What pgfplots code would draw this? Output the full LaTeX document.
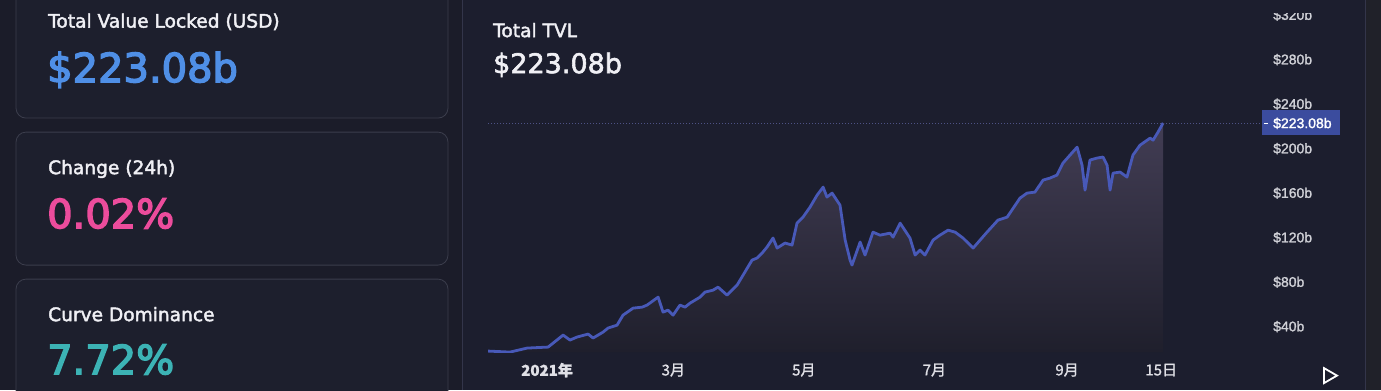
\documentclass[border=0pt]{standalone}
\usepackage{pgfplots}
\pgfplotsset{compat=1.18}
\usepackage{pgfplotstable}
\usepackage{fontspec}
\setmainfont{DejaVu Sans}
\newfontfamily\med[FakeBold=2.2]{DejaVu Sans}
\newfontfamily\semi[FakeBold=3.5]{DejaVu Sans}
\newfontfamily\lib[FakeBold=1.5]{Liberation Sans}
\newfontfamily\cjk[FakeBold=1.2]{Noto Sans CJK SC}
\definecolor{pagebg}{HTML}{1B1C29}
\definecolor{cardbg}{HTML}{1D1F2D}
\definecolor{cardborder}{HTML}{3B3D4C}
\definecolor{chartbg}{HTML}{1C1E2E}
\definecolor{rightbg}{HTML}{202129}
\definecolor{sepC}{HTML}{33354A}
\definecolor{lineC}{HTML}{4859B8}
\definecolor{fillTop}{HTML}{423D54}
\definecolor{fillBot}{HTML}{1F1F2C}
\definecolor{blueT}{HTML}{4F8FE6}
\definecolor{pinkT}{HTML}{EC4C9C}
\definecolor{tealT}{HTML}{3CB3B5}
\definecolor{headT}{HTML}{F0F0F5}
\definecolor{xtickC}{HTML}{E0E0E6}
\definecolor{ytickC}{HTML}{CFD0D6}
\definecolor{boxC}{HTML}{3B4C9E}
\definecolor{dotC}{HTML}{4D5285}

\pgfplotstableread{
day value
-27.6 18.0
-17.3 17.1
-9.3 20.7
0.5 21.6
7.5 32.4
10.7 27.9
14.0 30.6
19.2 33.3
21.5 29.7
26.2 35.1
28.5 38.7
32.7 41.3
35.5 50.3
40.2 56.6
44.4 57.5
46.7 59.3
51.9 66.5
54.2 53.0
56.5 54.8
58.9 50.3
62.1 59.3
64.5 57.5
66.8 61.1
71.5 66.5
73.8 71.0
77.6 72.8
79.9 75.5
84.1 68.3
88.8 77.3
91.6 86.3
95.8 99.8
98.1 101.6
100.5 106.1
102.8 111.5
105.6 119.6
107.5 110.6
111.2 115.1
114.5 113.3
116.8 133.0
119.6 138.4
122.9 147.4
126.2 158.2
129.0 165.4
130.8 156.4
133.2 160.0
136.9 149.2
139.3 117.8
141.6 99.8
142.5 95.3
146.3 116.0
148.6 104.3
152.3 124.9
155.6 122.2
160.3 124.0
161.7 120.4
165.0 133.0
169.6 119.6
172.0 104.3
174.3 108.8
176.6 104.3
180.4 117.8
183.6 122.2
187.4 126.7
190.7 124.9
194.4 119.6
199.1 110.6
205.6 124.9
210.7 135.7
215.0 138.4
221.0 155.5
224.3 160.0
228.0 160.9
231.8 171.7
235.0 173.5
238.3 176.2
241.1 187.0
244.4 194.2
247.7 201.3
250.0 185.2
251.4 162.7
253.7 189.7
257.0 191.5
259.8 192.4
261.7 185.2
263.1 162.7
264.5 178.0
267.8 178.9
271.0 174.4
273.8 194.2
277.1 203.1
281.8 209.4
283.2 207.6
285.5 214.8
287.9 223.08
}\tvl

\begin{document}
\begin{tikzpicture}
\begin{scope}[x=1pt,y=-1pt]
\useasboundingbox (0,0) rectangle (1381,390);
\fill[pagebg] (0,0) rectangle (1381,390);
\fill[chartbg] (462,0) rectangle (1365,390);
\fill[rightbg] (1365,0) rectangle (1381,390);
\draw[sepC, line width=1pt] (462,0) -- (462,390);
\draw[sepC, line width=1pt] (1365,0) -- (1365,390);
% cards
\draw[cardborder, fill=cardbg, rounded corners=10pt, line width=0.8pt] (16,-20) rectangle (448,118);
\draw[cardborder, fill=cardbg, rounded corners=10pt, line width=0.8pt] (16,132) rectangle (448,265);
\draw[cardborder, fill=cardbg, rounded corners=10pt, line width=0.8pt] (16,279) rectangle (448,410);
% card texts
\node[anchor=base west, inner sep=0pt, text=headT] at (48,27.5) {\med\fontsize{18.6}{22}\selectfont Total Value Locked (USD)};
\node[anchor=base west, inner sep=0pt, text=blueT] at (47,82) {\semi\fontsize{40}{44}\selectfont \$223.08b};
\node[anchor=base west, inner sep=0pt, text=headT] at (48,174) {\med\fontsize{18.6}{22}\selectfont Change (24h)};
\node[anchor=base west, inner sep=0pt, text=pinkT] at (47,228) {\semi\fontsize{40}{44}\selectfont 0.02\%};
\node[anchor=base west, inner sep=0pt, text=headT] at (48,321) {\med\fontsize{18.6}{22}\selectfont Curve Dominance};
\node[anchor=base west, inner sep=0pt, text=tealT] at (47,374) {\semi\fontsize{40}{44}\selectfont 7.72\%};
% chart title
\node[anchor=base west, inner sep=0pt, text=headT] at (493,37) {\med\fontsize{18.6}{22}\selectfont Total TVL};
\node[anchor=base west, inner sep=0pt, text=headT] at (493,73) {\med\fontsize{27}{30}\selectfont \$223.08b};
\end{scope}

\begin{axis}[
  at={(488pt,-352pt)}, anchor=south west,
  scale only axis, width=762pt, height=352pt,
  xmin=-27.6, xmax=328.5, ymin=17.08, ymax=333.5,
  axis line style={draw=none},
  major tick length=0pt,
  xticklabel pos=lower, yticklabel pos=right,
  xtick={0,59,120,181,243,287},
  xticklabels={\textbf{2021年},3月,5月,7月,9月,15日},
  xticklabel style={anchor=center, inner sep=0pt, yshift=-18pt, font=\cjk\fontsize{15}{17}\selectfont, text=xtickC},
  ytick={40,80,120,160,200,240,280,320},
  yticklabels={\$40b,\$80b,\$120b,\$160b,\$200b,\$240b,\$280b,\$320b},
  yticklabel style={anchor=west, inner sep=0pt, xshift=23pt, font=\lib\fontsize{14}{16}\selectfont, text=ytickC},
  grid=none,
]
\addplot[draw=none, top color=fillTop, bottom color=fillBot] table[x=day,y=value] {\tvl} \closedcycle;
\addplot[color=lineC, line width=2.8pt, line join=round] table[x=day,y=value] {\tvl};
\end{axis}

\begin{scope}[x=1pt,y=-1pt]
\fill[chartbg] (1262,0) rectangle (1364,13);
\draw[dotC, line width=0.9pt, dash pattern=on 1pt off 2pt] (488,123) -- (1262,123);
\fill[boxC] (1262,110) rectangle (1340,135);
\draw[white, line width=1pt] (1264,123) -- (1268,123);
\node[anchor=base west, inner sep=0pt, text=white] at (1273,128) {\lib\fontsize{14}{16}\selectfont \$223.08b};
\draw[white, line width=1.8pt, line join=miter] (1324,368) -- (1337,375.5) -- (1324,383) -- cycle;
\end{scope}
\end{tikzpicture}
\end{document}
